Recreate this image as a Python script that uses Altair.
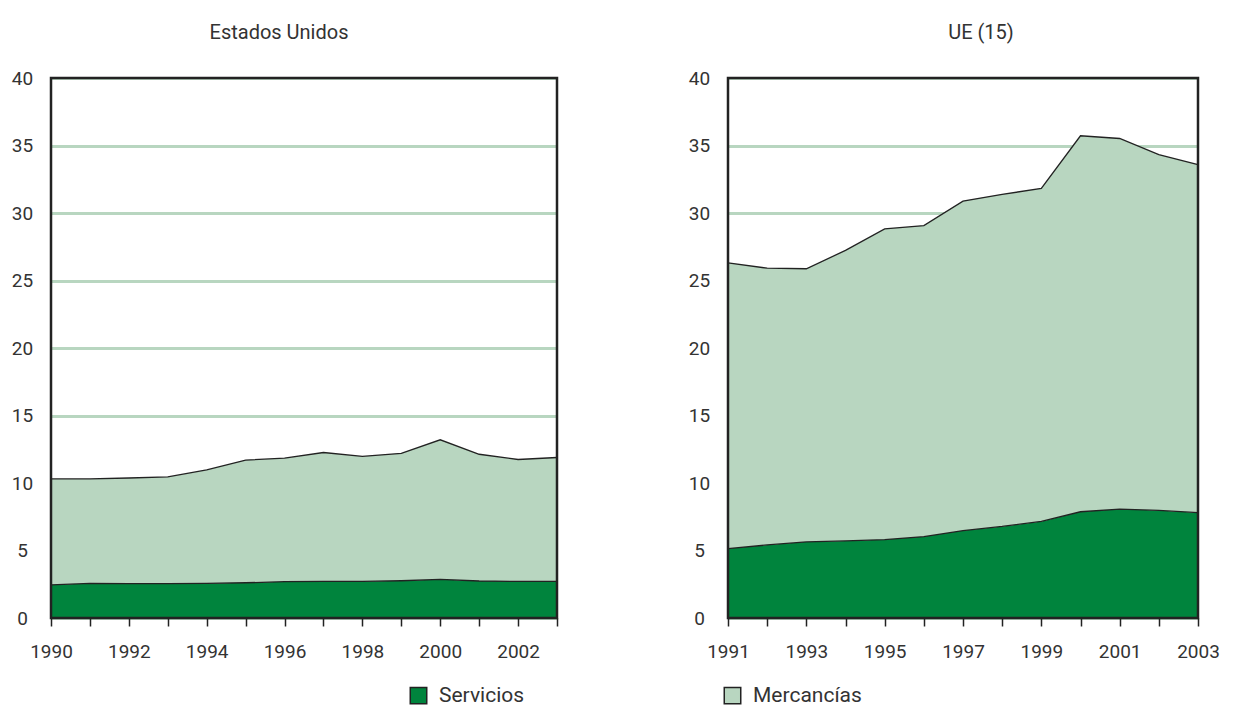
import altair as alt
import pandas as pd

# ---- data ----
us_years = list(range(1990, 2004))
us_servicios = [2.46, 2.56, 2.54, 2.54, 2.56, 2.61, 2.69, 2.71, 2.71, 2.76, 2.86, 2.74, 2.71, 2.71]
us_mercancias = [7.84, 7.74, 7.83, 7.91, 8.41, 9.09, 9.15, 9.55, 9.26, 9.44, 10.34, 9.39, 9.03, 9.18]

ue_years = list(range(1991, 2004))
ue_servicios = [5.14, 5.41, 5.64, 5.71, 5.81, 6.03, 6.48, 6.78, 7.15, 7.87, 8.07, 7.97, 7.80]
ue_mercancias = [21.17, 20.50, 20.23, 21.52, 23.01, 23.04, 24.40, 24.60, 24.67, 27.85, 27.45, 26.36, 25.78]

series = ["Servicios", "Mercancías"]
colors = ["#00843D", "#B8D6C0"]
y_ticks = [0, 5, 10, 15, 20, 25, 30, 35, 40]

FONT = "Roboto, sans-serif"
TXT = "#333333"
H = 540


def build(years, serv, merc):
    rows = []
    for yr, s, m in zip(years, serv, merc):
        rows.append({"year": yr, "serie": "Servicios", "v": s, "orden": 0})
        rows.append({"year": yr, "serie": "Mercancías", "v": m, "orden": 1})
    return pd.DataFrame(rows)


def panel(df, title, xmin, parity, width, dx):
    base = alt.Chart(df).transform_stack(
        stack="v", groupby=["year"], as_=["y0", "y1"], sort=[alt.SortField("orden")]
    )
    x = alt.X(
        "year:Q",
        title=None,
        scale=alt.Scale(domain=[xmin, 2003], nice=False, zero=False),
        axis=alt.Axis(
            values=list(range(xmin, 2004)),
            labelExpr=f"datum.value % 2 == {parity} ? datum.value : ''",
            format="d",
            domain=False,
            grid=False,
            ticks=True,
            tickSize=8,
            tickWidth=1.5,
            tickColor="#222222",
            labelPadding=16,
            labelFontSize=19,
            labelFont=FONT,
            labelColor=TXT,
            labelFlush=False,
            labelOverlap=False,
        ),
    )
    y = alt.Y(
        "y0:Q",
        title=None,
        scale=alt.Scale(domain=[0, 40], nice=False),
        axis=alt.Axis(
            values=y_ticks,
            domain=False,
            ticks=False,
            grid=True,
            gridColor="#B8D6C0",
            gridWidth=3,
            labelAlign="center",
            labelPadding=29,
            labelFontSize=19,
            labelFont=FONT,
            labelColor=TXT,
        ),
    )
    area = base.mark_area(opacity=1).encode(
        x=x,
        y=y,
        y2="y1:Q",
        color=alt.Color(
            "serie:N",
            scale=alt.Scale(domain=series, range=colors),
            legend=alt.Legend(
                title=None,
                orient="none",
                direction="horizontal",
                legendX=357,
                legendY=607,
                symbolType="square",
                symbolSize=272,
                symbolStrokeColor="#222222",
                symbolStrokeWidth=1.5,
                symbolOpacity=1,
                labelFontSize=21,
                labelFont=FONT,
                labelColor=TXT,
                labelOffset=10,
                columnPadding=196,
            ),
        ),
        order=alt.Order("orden:Q"),
    )
    line = base.mark_line(color="#222222", strokeWidth=1.3).encode(
        x=x, y="y1:Q", detail="serie:N"
    )
    frame = alt.Chart(pd.DataFrame({"f": [0]})).mark_rect(
        filled=False, stroke="#222222", strokeWidth=2.5
    ).encode(
        x=alt.value(0), x2=alt.value(width), y=alt.value(0), y2=alt.value(H)
    )
    return alt.layer(area, line, frame).properties(
        width=width,
        height=H,
        title=alt.TitleParams(
            title, fontSize=20, font=FONT, color=TXT, fontWeight="normal", dx=dx, offset=26
        ),
    )


left = panel(build(us_years, us_servicios, us_mercancias), "Estados Unidos", 1990, 0, 506, -25)
right = panel(build(ue_years, ue_servicios, ue_mercancias), "UE (15)", 1991, 1, 470, 18)

chart = (
    alt.hconcat(left, right, spacing=128)
    .resolve_scale(color="shared")
    .properties(padding={"left": 3, "top": 15, "right": 4, "bottom": 0}, background="white")
    .configure_view(stroke=None)
)

chart.save("out.html", embed_options={"renderer": "svg", "actions": False})
